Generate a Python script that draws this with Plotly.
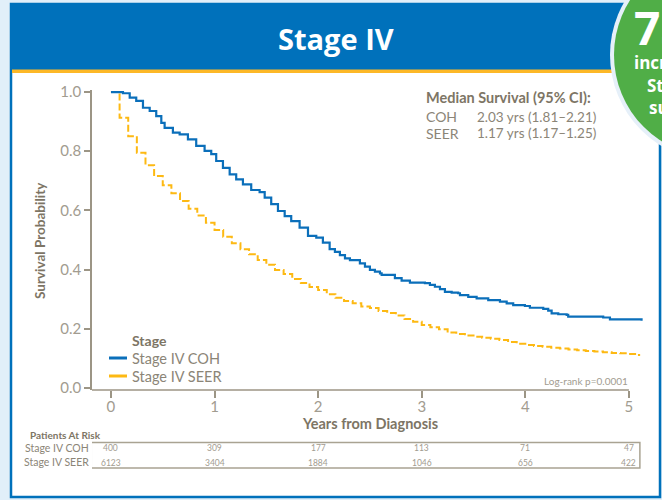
import plotly.graph_objects as go

# ---------------- data ----------------
coh_time = [0, 0.116, 0.181, 0.244, 0.309, 0.374, 0.437, 0.486, 0.518, 0.598,
            0.663, 0.743, 0.823, 0.904, 0.968, 1.016, 1.081, 1.146, 1.209, 1.274,
            1.354, 1.435, 1.484, 1.547, 1.612, 1.677, 1.740, 1.821, 1.902, 1.982,
            2.046, 2.111, 2.162, 2.210, 2.259, 2.307, 2.403, 2.452, 2.500, 2.548,
            2.597, 2.613, 2.741, 2.806, 2.886, 3.031, 3.079, 3.127, 3.176, 3.224,
            3.289, 3.352, 3.369, 3.449, 3.530, 3.642, 3.755, 3.820, 3.883, 3.996,
            4.044, 4.173, 4.221, 4.254, 4.318, 4.399, 4.414, 4.752, 4.817, 5.106,
            5.122]
coh_surv = [1.0, 0.996, 0.981, 0.970, 0.947, 0.936, 0.919, 0.896, 0.879, 0.863,
            0.857, 0.840, 0.818, 0.801, 0.790, 0.767, 0.744, 0.722, 0.705, 0.688,
            0.669, 0.662, 0.643, 0.621, 0.598, 0.581, 0.564, 0.542, 0.514, 0.508,
            0.491, 0.469, 0.460, 0.449, 0.438, 0.432, 0.421, 0.410, 0.399, 0.393,
            0.387, 0.382, 0.371, 0.363, 0.356, 0.354, 0.348, 0.342, 0.334, 0.325,
            0.322, 0.320, 0.314, 0.308, 0.303, 0.297, 0.292, 0.286, 0.280, 0.277,
            0.271, 0.267, 0.261, 0.252, 0.249, 0.247, 0.241, 0.238, 0.232, 0.232,
            0.227]

seer_months = list(range(62)) + [61.3]
seer_surv = [1.0, 0.913, 0.851, 0.795, 0.753, 0.716, 0.685, 0.658, 0.632, 0.606,
             0.583, 0.558, 0.534, 0.511, 0.489, 0.469, 0.452, 0.432, 0.416, 0.399,
             0.385, 0.368, 0.355, 0.341, 0.331, 0.317, 0.305, 0.294, 0.286, 0.275,
             0.270, 0.260, 0.253, 0.245, 0.233, 0.224, 0.213, 0.205, 0.198, 0.187,
             0.182, 0.177, 0.173, 0.170, 0.166, 0.162, 0.155, 0.149, 0.145, 0.142,
             0.139, 0.136, 0.133, 0.130, 0.127, 0.125, 0.123, 0.121, 0.118, 0.117,
             0.115, 0.111, 0.111]

x_ticks = [0, 1, 2, 3, 4, 5]
y_ticks = [0.0, 0.2, 0.4, 0.6, 0.8, 1.0]
y_ticktext = ["0.0", "0.2", "0.4", "0.6", "0.8", "1.0"]
risk_times = [0, 1, 2, 3, 4, 5]
risk_coh = [400, 309, 177, 113, 71, 47]
risk_seer = [6123, 3404, 1884, 1046, 656, 422]

series_names = ["Stage IV COH", "Stage IV SEER"]
median_rows = [("COH", "2.03 yrs (1.81–2.21)"), ("SEER", "1.17 yrs (1.17–1.25)")]

assert len(coh_time) == len(coh_surv)
assert len(seer_months) == len(seer_surv)

# ---------------- style ----------------
W, H = 662, 500
L, R, T, B = 92, 19, 90, 110
PW, PH = W - L - R, H - T - B

BLUE = "#0071BB"
COH_C = "#0B6FBA"
SEER_C = "#FDB913"
ORANGE = "#FDB827"
GREEN = "#50AE47"
BG = "#E1EFF9"
AXC = "#9C9585"
TXT = "#8B8577"
HDR = "#7D7565"
FONT = "Lato"


def PX(x):
    return (x - L) / PW


def PY(y):
    return (H - B - y) / PH


fig = go.Figure()

seer_years = [m / 12 for m in seer_months]
fig.add_trace(go.Scatter(x=seer_years, y=seer_surv, mode="lines", name=series_names[1],
                         line=dict(shape="hv", color=SEER_C, width=2, dash="7px,3px"),
                         showlegend=False, hoverinfo="skip"))
fig.add_trace(go.Scatter(x=coh_time, y=coh_surv, mode="lines", name=series_names[0],
                         line=dict(shape="hv", color=COH_C, width=2.2),
                         showlegend=False, hoverinfo="skip"))

shapes = []
# white panel with blue border
shapes.append(dict(type="rect", xref="paper", yref="paper", x0=PX(11), x1=PX(660),
                   y0=PY(497), y1=PY(4), fillcolor="white", line=dict(color=BLUE, width=2.5),
                   layer="below"))
# banner
shapes.append(dict(type="rect", xref="paper", yref="paper", x0=PX(10), x1=PX(662),
                   y0=PY(70), y1=PY(4), fillcolor=BLUE, line=dict(width=0), layer="below"))
# orange strip
shapes.append(dict(type="rect", xref="paper", yref="paper", x0=PX(12), x1=PX(660),
                   y0=PY(73), y1=PY(69.5), fillcolor=ORANGE, line=dict(width=0), layer="below"))
# green badge with pale ring
cx, cy = 716, 55
shapes.append(dict(type="circle", xref="paper", yref="paper", x0=PX(cx - 106), x1=PX(cx + 106),
                   y0=PY(cy + 106), y1=PY(cy - 106), fillcolor="#E6F0F9", line=dict(width=0),
                   layer="below"))
shapes.append(dict(type="circle", xref="paper", yref="paper", x0=PX(cx - 102), x1=PX(cx + 102),
                   y0=PY(cy + 102), y1=PY(cy - 102), fillcolor=GREEN, line=dict(width=0),
                   layer="below"))
# x axis line (ends at 5 years)
shapes.append(dict(type="line", xref="x", yref="paper", x0=-0.183, x1=5.0, y0=0, y1=0,
                   line=dict(color=AXC, width=1.5)))
# risk table box
shapes.append(dict(type="rect", xref="x", yref="paper", x0=-0.19, x1=5.106,
                   y0=PY(468), y1=PY(442.5), line=dict(color="#A9A392", width=1.5)))
# legend samples
shapes.append(dict(type="line", xref="paper", yref="paper", x0=PX(109), x1=PX(127),
                   y0=PY(358), y1=PY(358), line=dict(color=COH_C, width=3)))
shapes.append(dict(type="line", xref="paper", yref="paper", x0=PX(109), x1=PX(127),
                   y0=PY(376), y1=PY(376), line=dict(color=SEER_C, width=3)))

ann = []


def A(text, x, y, size, color=TXT, xanchor="left", bold=False, angle=0, xref="paper", family=FONT):
    ann.append(dict(text=("<b>%s</b>" % text) if bold else text, x=x, y=y, xref=xref, yref="paper",
                    xanchor=xanchor, yanchor="middle", showarrow=False, textangle=angle,
                    font=dict(size=size, color=color, family=family)))


A("Stage IV", PX(336), PY(38), 29, color="white", xanchor="center", bold=True, family="Open Sans")
# badge text (clipped by the page edge)
A("75%", PX(632), PY(27), 46, color="white", bold=True, family="Open Sans")
A("increase in", PX(632), PY(62), 17, color="white", bold=True, family="Open Sans")
A("Stage IV", PX(645), PY(85), 17, color="white", bold=True, family="Open Sans")
A("survival", PX(647), PY(107), 17, color="white", bold=True, family="Open Sans")

A("Survival Probability", PX(40), PY(240), 13.5, color=HDR, xanchor="center", bold=True, angle=-90)
A("Years from Diagnosis", PX(370), PY(423), 14.5, color=HDR, xanchor="center", bold=True)

A("Median Survival (95% CI):", PX(424), PY(98), 14.5, color=HDR, bold=True)
for i, (grp, val) in enumerate(median_rows):
    A(grp, PX(424), PY(117 + 16 * i), 14)
    A(val, PX(475), PY(117 + 16 * i), 13.5)

A("Stage", PX(130), PY(340), 14, color=HDR, bold=True)
A(series_names[0], PX(130), PY(358), 14.5)
A(series_names[1], PX(130), PY(376), 14.5)

A("Log-rank p=0.0001", PX(630), PY(381), 10, color="#A29C90", xanchor="right")

A("Patients At Risk", PX(28), PY(435), 10, color=HDR, bold=True)
A(series_names[0], PX(91), PY(447.5), 10.5, xanchor="right")
A(series_names[1], PX(91), PY(462), 10.5, xanchor="right")
for t, a, b in zip(risk_times, risk_coh, risk_seer):
    A(str(a), t, PY(448), 8.5, color="#A29C90", xanchor="center", xref="x")
    A(str(b), t, PY(462.5), 8.5, color="#A29C90", xanchor="center", xref="x")

fig.update_layout(
    width=W, height=H, margin=dict(l=L, r=R, t=T, b=B, pad=0),
    paper_bgcolor=BG, plot_bgcolor="rgba(0,0,0,0)",
    shapes=shapes, annotations=ann, showlegend=False,
    xaxis=dict(range=[-0.183, 5.136], tickvals=x_ticks, ticks="outside", ticklen=7,
               tickcolor=AXC, tickwidth=1.5, showline=False, showgrid=False, zeroline=False,
               ticklabelstandoff=-4,
               tickfont=dict(size=15, color="#A29C90", family=FONT)),
    yaxis=dict(range=[-0.007, 1.007], tickvals=y_ticks, ticktext=y_ticktext, ticks="outside",
               ticklen=6, tickcolor=AXC, tickwidth=1.5, showline=True, linecolor=AXC,
               linewidth=1.5, showgrid=False, zeroline=False,
               tickfont=dict(size=15, color="#A29C90", family=FONT)),
)

fig.write_html("out.html", config={"displayModeBar": False},
               post_script="document.body.style.margin='0';")
